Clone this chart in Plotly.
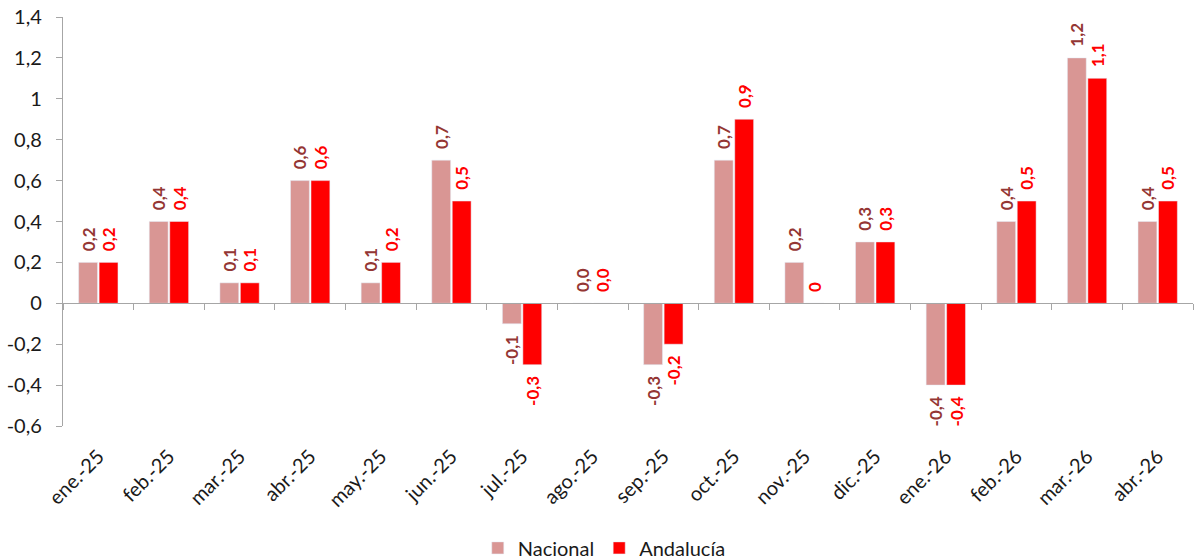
import plotly.graph_objects as go

categories = ["ene.-25", "feb.-25", "mar.-25", "abr.-25", "may.-25", "jun.-25",
              "jul.-25", "ago.-25", "sep.-25", "oct.-25", "nov.-25", "dic.-25",
              "ene.-26", "feb.-26", "mar.-26", "abr.-26"]
nacional = [0.2, 0.4, 0.1, 0.6, 0.1, 0.7, -0.1, 0.0, -0.3, 0.7, 0.2, 0.3, -0.4, 0.4, 1.2, 0.4]
andalucia = [0.2, 0.4, 0.1, 0.6, 0.2, 0.5, -0.3, 0.0, -0.2, 0.9, 0.0, 0.3, -0.4, 0.5, 1.1, 0.5]
nacional_labels = ["0,2", "0,4", "0,1", "0,6", "0,1", "0,7", "-0,1", "0,0", "-0,3", "0,7",
                   "0,2", "0,3", "-0,4", "0,4", "1,2", "0,4"]
andalucia_labels = ["0,2", "0,4", "0,1", "0,6", "0,2", "0,5", "-0,3", "0,0", "-0,2", "0,9",
                    "0", "0,3", "-0,4", "0,5", "1,1", "0,5"]
y_tickvals = [1.4, 1.2, 1.0, 0.8, 0.6, 0.4, 0.2, 0.0, -0.2, -0.4, -0.6]
y_ticktext = ["1,4", "1,2", "1", "0,8", "0,6", "0,4", "0,2", "0", "-0,2", "-0,4", "-0,6"]

Y_MIN, Y_MAX = -0.6, 1.4
FONT = "Lato, 'Open Sans', sans-serif"
PAD = "\u00a0\u00a0"


def padded(labels):
    return [PAD + t + PAD for t in labels]


fig = go.Figure()
fig.add_trace(go.Bar(
    x=categories, y=nacional, name="Nacional",
    marker=dict(color="#D99694"),
    text=padded(nacional_labels), textposition="outside", textangle=-90,
    textfont=dict(family=FONT, size=17, color="#943634", weight="bold"),
    constraintext="none", cliponaxis=False, hoverinfo="skip",
))
fig.add_trace(go.Bar(
    x=categories, y=andalucia, name="Andalucía",
    marker=dict(color="#FF0000"),
    text=padded(andalucia_labels), textposition="outside", textangle=-90,
    textfont=dict(family=FONT, size=17, color="#FF0000", weight="bold"),
    constraintext="none", cliponaxis=False, hoverinfo="skip",
))
# invisible trace to carry the zero-line category axis
fig.add_trace(go.Scatter(x=categories, y=[None] * len(categories), xaxis="x2",
                         showlegend=False, hoverinfo="skip", mode="lines"))

zero_pos = (0 - Y_MIN) / (Y_MAX - Y_MIN)

fig.update_layout(
    width=1195, height=559,
    margin=dict(l=63, r=2, t=17, b=133, autoexpand=False),
    paper_bgcolor="white", plot_bgcolor="white",
    barmode="group", bargap=0.42, bargroupgap=0.08,
    font=dict(family=FONT, size=20, color="#1a1a1a"),
    showlegend=True,
    legend=dict(orientation="h", x=0.479, xanchor="center", y=-0.298, yanchor="middle",
                font=dict(size=20, color="#1a1a1a"), itemwidth=30, tracegroupgap=0),
    xaxis=dict(
        type="category", categoryorder="array", categoryarray=categories,
        showline=False, ticks="", showgrid=False, zeroline=False,
        tickangle=-45, tickfont=dict(size=20), automargin=False,
        ticklabelstandoff=14,
        range=[-0.5, len(categories) - 0.5],
    ),
    xaxis2=dict(
        type="category", categoryorder="array", categoryarray=categories,
        overlaying="x", anchor="free", position=zero_pos, side="bottom",
        showline=True, linecolor="#A6A6A6", linewidth=1.3,
        ticks="outside", tickson="boundaries", ticklen=6, tickcolor="#A6A6A6",
        showticklabels=False, showgrid=False, zeroline=False, automargin=False,
        range=[-0.5, len(categories) - 0.5],
    ),
    yaxis=dict(
        range=[Y_MIN, Y_MAX], tickvals=y_tickvals, ticktext=y_ticktext,
        showline=True, linecolor="#A6A6A6", linewidth=1.3,
        ticks="outside", ticklen=6, tickcolor="#A6A6A6", automargin=False,
        ticklabelstandoff=10,
        showgrid=False, zeroline=False, tickfont=dict(size=20),
    ),
)

fig.write_html("out.html", config={"displayModeBar": False},
               post_script="document.body.style.margin='0';document.body.style.overflow='hidden';")
